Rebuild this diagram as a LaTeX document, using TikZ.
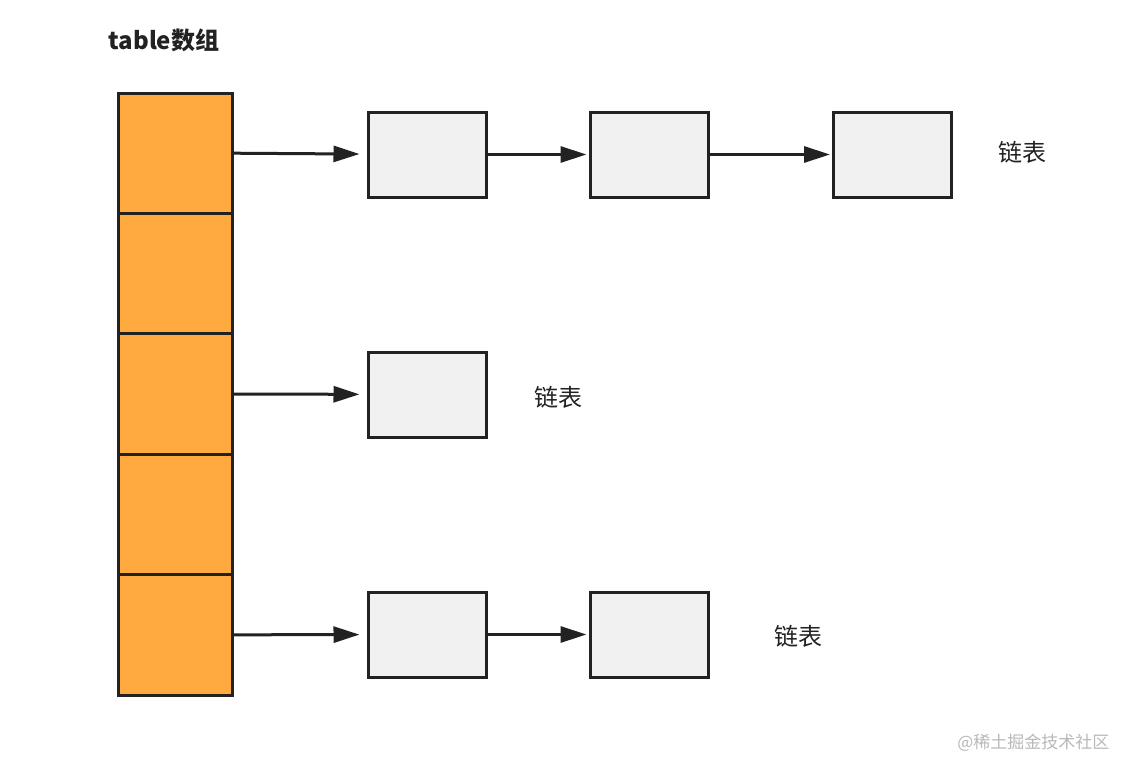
\documentclass[tikz,border=0pt]{standalone}
\usepackage{fontspec}
\setmainfont{Noto Sans CJK SC}
\usepackage{tikz}
\usetikzlibrary{arrows.meta,positioning}
\definecolor{cellorange}{HTML}{FFAA3F}
\definecolor{boxgray}{HTML}{F1F1F1}
\definecolor{inkdark}{HTML}{222222}

\begin{document}
\begin{tikzpicture}[x=1pt,y=-1pt,
  cell/.style={rectangle, draw=inkdark, fill=cellorange, line width=3,
    minimum width=114, minimum height=120.4, inner sep=0},
  item/.style={rectangle, draw=inkdark, fill=boxgray, line width=3,
    minimum width=118, minimum height=85, inner sep=0},
  link/.style={draw=inkdark, line width=3, shorten >=2,
    -{Triangle[length=26,width=16]}},
  tag/.style={font=\fontsize{24}{28}\selectfont, text=inkdark}]
  \useasboundingbox (0,0) rectangle (1134,776);
  \node[anchor=west, font=\fontsize{24}{28}\selectfont\bfseries, text=inkdark] (title) at (105,40) {table数组};
  % the table array
  \foreach \i in {1,...,5}
    \node[cell] (c\i) at (175,{93+120.4*(\i-0.5)}) {};
  % first list
  \node[item] (r1a) at (427,154.5) {};
  \node[item] (r1b) at (649,154.5) {};
  \node[item] (r1c) at (892.5,154.5) {};
  \node[tag] (l1) at (1022,152) {链表};
  % second list
  \node[item] (r2a) at (427,394.5) {};
  \node[tag] (l2) at (558,397) {链表};
  % third list
  \node[item] (r3a) at (427,634.5) {};
  \node[item] (r3b) at (649,634.5) {};
  \node[tag] (l3) at (798,636) {链表};
  \draw[link, shorten >=7] (c1.east) -- (r1a);
  \draw[link] (r1a) -- (r1b);
  \draw[link] (r1b) -- (r1c);
  \draw[link, shorten >=7] (c3.east) -- (r2a);
  \draw[link, shorten >=7] (c5.east) -- (r3a);
  \draw[link] (r3a) -- (r3b);
  \node[anchor=east, font=\fontsize{17}{20}\selectfont, text=black!28] (mark) at (1113,743) {@稀土掘金技术社区};
\end{tikzpicture}
\end{document}
